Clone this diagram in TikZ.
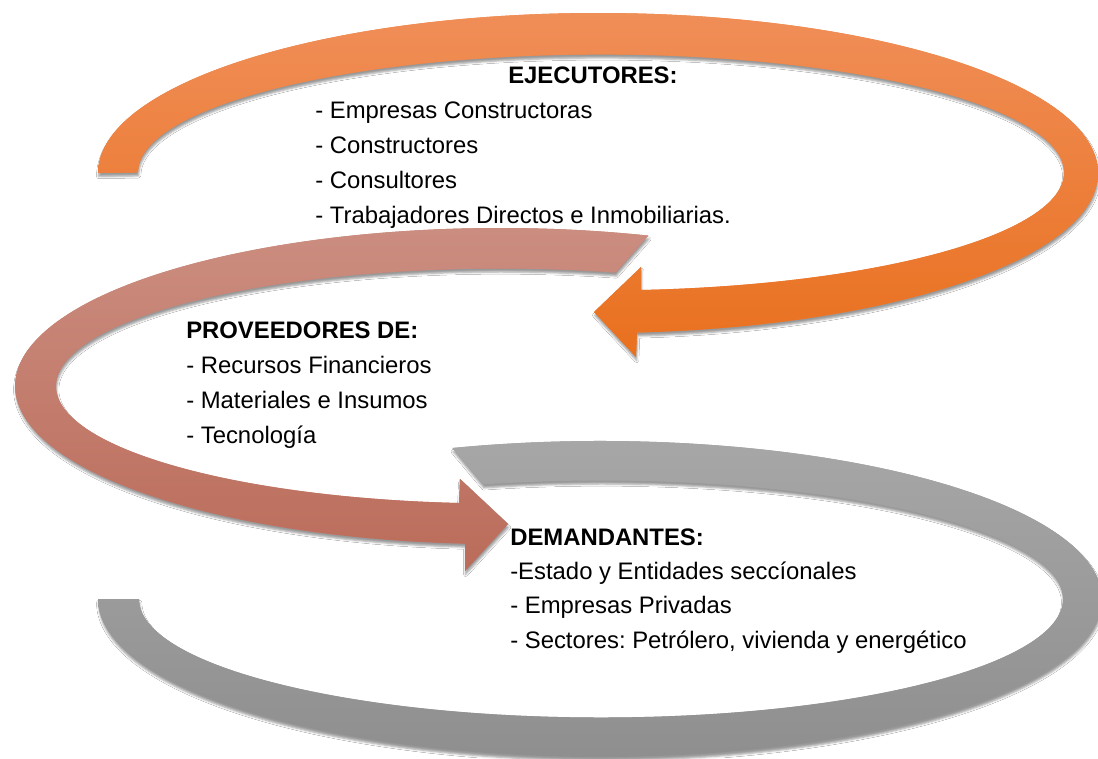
\documentclass[tikz,border=0pt]{standalone}
\usepackage{fontspec}
\setmainfont{Liberation Sans}
\usetikzlibrary{shadows.blur}
\frenchspacing
\definecolor{orTop}{RGB}{240,142,88}
\definecolor{orBot}{RGB}{233,112,30}
\definecolor{saTop}{RGB}{204,143,130}
\definecolor{saBot}{RGB}{187,108,90}
\definecolor{grTop}{RGB}{168,168,168}
\definecolor{grBot}{RGB}{142,142,142}
\tikzset{
  band/.style={blur shadow={shadow xshift=0.5pt, shadow yshift=-2.6pt, shadow blur radius=1.6pt, shadow blur extra rounding=0pt, shadow opacity=40}},
  orangeband/.style={band, preaction={fill=orTop!50!orBot}, top color=orTop, bottom color=orBot},
  salmonband/.style={band, preaction={fill=saTop!50!saBot}, top color=saTop, bottom color=saBot},
  grayband/.style={band, preaction={fill=grTop!50!grBot}, top color=grTop, bottom color=grBot},
  txt/.style={anchor=base west, inner sep=0pt, font=\fontsize{17.9}{21}\selectfont},
  hd/.style={txt, font=\fontsize{17.9}{21}\selectfont\bfseries}
}
\begin{document}
\begin{tikzpicture}[x=0.75pt, y=0.75pt]
\useasboundingbox (0,0) rectangle (1098,-758);
\fill[white] (0,0) rectangle (1098,-758);
% gray band
\path[grayband] (452.4,-448) arc[start angle=107.1, end angle=-180, x radius=502, y radius=158]
  -- (139,-599) arc[start angle=-180, end angle=104.8, x radius=462, y radius=118.5] -- cycle;
% salmon arrow
\path[salmonband] (648.3,-235.6) arc[start angle=72.2, end angle=265.86, x radius=485, y radius=158]
  -- (465,-571) -- (508,-524) -- (460,-479) -- (459,-503)
  arc[start angle=264.7, end angle=74.9, x radius=444, y radius=117.5] -- cycle;
% orange arrow
\path[orangeband] (98,-173) arc[start angle=180, end angle=-85.53, x radius=500, y radius=160]
  -- (636,-357) -- (594,-312) -- (641,-267) -- (641,-290)
  arc[start angle=-85.04, end angle=180, x radius=463, y radius=118] -- cycle;
% texts
\node[hd]  (e0) at (508,-83)  {EJECUTORES:};
\node[txt] (e1) at (315,-118) {- Empresas Constructoras};
\node[txt] (e2) at (315,-153) {- Constructores};
\node[txt] (e3) at (315,-188) {- Consultores};
\node[txt] (e4) at (315,-223) {- Trabajadores Directos e Inmobiliarias.};
\node[hd]  (p0) at (186,-338) {PROVEEDORES DE:};
\node[txt] (p1) at (186,-373) {- Recursos Financieros};
\node[txt] (p2) at (186,-408) {- Materiales e Insumos};
\node[txt] (p3) at (186,-443) {- Tecnología};
\node[hd]  (d0) at (510,-545) {DEMANDANTES:};
\node[txt] (d1) at (510,-579) {-Estado y Entidades seccíonales};
\node[txt] (d2) at (510,-613) {- Empresas Privadas};
\node[txt] (d3) at (510,-648) {- Sectores: Petrólero, vivienda y energético};
\end{tikzpicture}
\end{document}
